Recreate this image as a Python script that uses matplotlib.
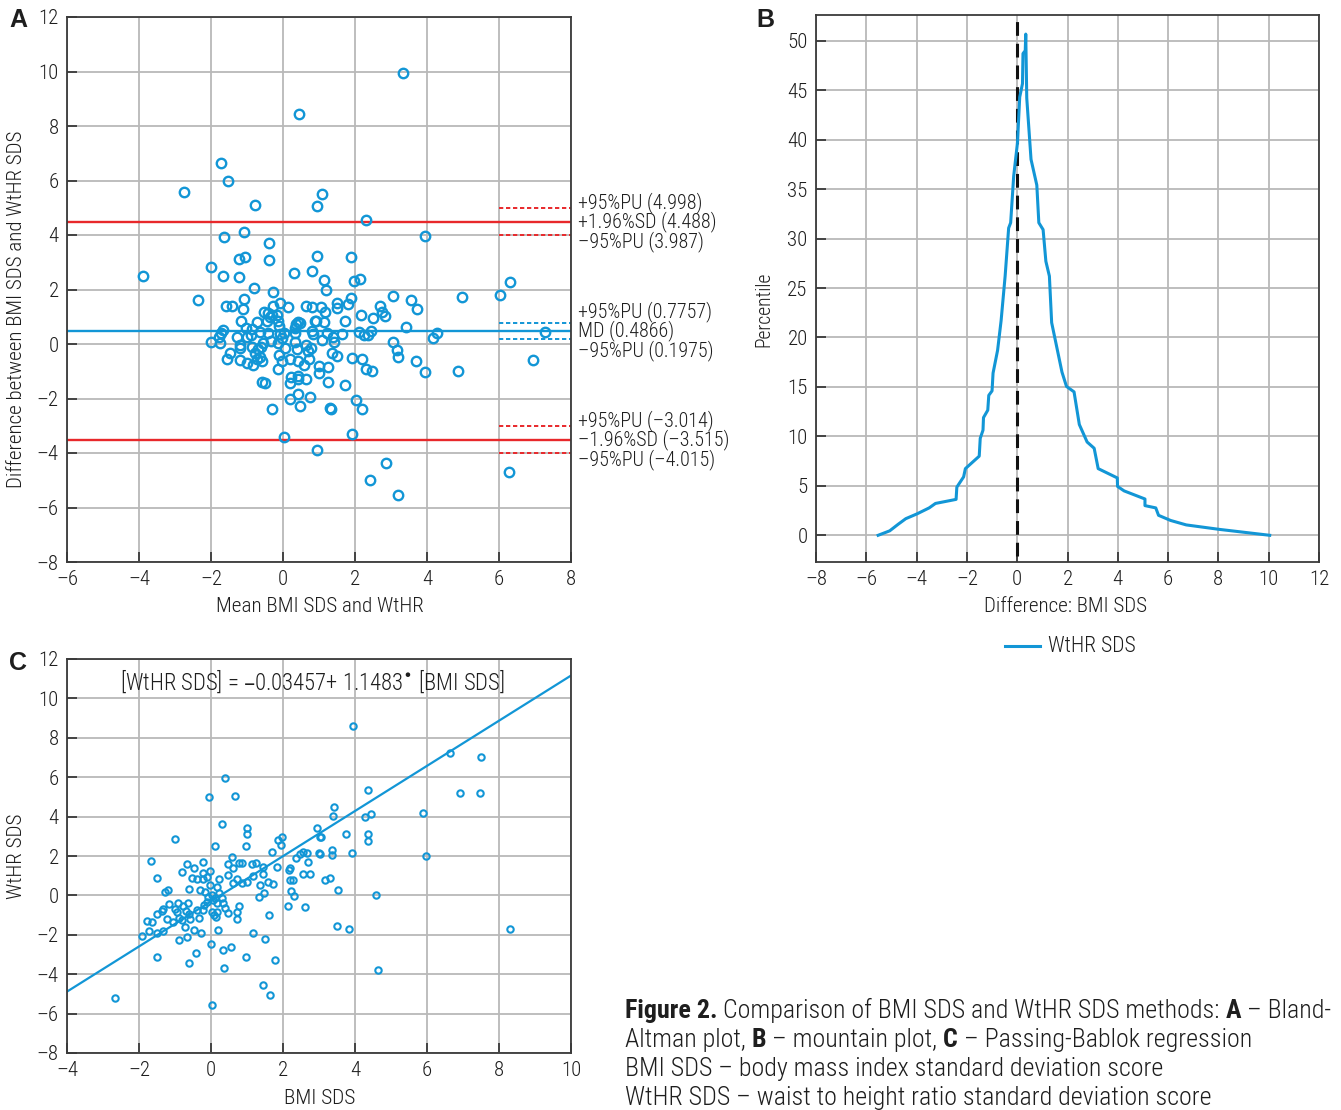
import matplotlib
matplotlib.use("Agg")
import matplotlib.pyplot as plt
from matplotlib import font_manager
from matplotlib.ticker import FuncFormatter, MultipleLocator
from matplotlib.lines import Line2D

# ---------------- data ----------------
# Panel A: Bland-Altman (mean, difference)
ba_mean = [0.44, -1.71, -1.53, -2.76, -0.79, 0.95, 1.07, -1.09, -1.64, -0.38, -1.21, -1.06, -0.38, 0.95,
           -2.00, -3.90, -1.68, -1.22, 0.31, 0.80, -0.80, -0.29, 3.33, 2.31, 3.95, 1.88, 1.14, 1.98, 2.13,
           6.31, 1.20, 0.64, 0.81, 1.05, 1.51, 1.49, 1.17, 1.88, 1.81, 3.05, 4.98, 6.03, 3.56, 2.70, 3.71,
           2.74, 2.83, 2.51, 2.16, 0.91, 1.15, 1.72, 0.47, 3.42, 2.10, 2.26, 2.36, 2.45, 0.81, 0.82, 1.21,
           1.40, 1.63, 4.28, 4.16, 7.27, 1.07, 1.42, 3.05, 3.18, 3.19, 3.69, 6.94, 3.95, 4.87, 1.93, 2.19,
           2.31, 2.46, 1.35, 1.49, 1.00, 1.24, 1.01, 0.63, 1.25, 1.72, 0.75, 2.03, 2.20, 1.30, 1.32, 1.91,
           0.94, 2.87, 6.28, 2.43, 3.20, -2.36, -1.57, -1.42, -1.07, -1.10, -0.08, -0.27, 0.13, -0.53, -0.41,
           -0.30, -0.18, -0.36, -1.17, -0.73, -0.44, -0.13, -0.10, 0.41, 0.36, 0.32, 0.90, -1.66, -1.73,
           -1.77, -2.00, -1.75, -1.03, -0.86, -0.64, -1.28, -1.01, -0.90, -0.43, -0.08, 0.03, -0.02, 0.34,
           0.34, -0.33, -0.55, -0.61, -0.69, -1.19, -1.19, -0.87, -0.13, 0.64, 0.79, 0.70, 0.06, 0.38,
           -1.47, -1.56, -1.19, -1.01, -0.83, -0.59, -0.78, -0.64, -0.73, -0.12, -0.02, 0.19, 0.43, 0.59,
           0.73, -0.14, 0.22, 0.41, 0.42, 0.19, -0.59, -0.49, 0.42, 0.19, 0.46, -0.31, 0.02]
ba_diff = [8.45, 6.64, 5.98, 5.58, 5.11, 5.06, 5.50, 4.12, 3.94, 3.72, 3.12, 3.19, 3.08, 3.23,
           2.84, 2.50, 2.50, 2.46, 2.62, 2.69, 2.07, 1.92, 9.94, 4.56, 3.96, 3.21, 2.35, 2.32, 2.39,
           2.29, 1.98, 1.39, 1.37, 1.37, 1.52, 1.32, 1.17, 1.69, 1.47, 1.77, 1.74, 1.79, 1.60, 1.41, 1.28,
           1.19, 1.04, 0.95, 1.08, 0.84, 0.82, 0.83, 0.78, 0.64, 0.44, 0.32, 0.32, 0.48, 0.49, 0.36, 0.39,
           0.25, 0.37, 0.39, 0.21, 0.45, 0.14, 0.06, 0.08, -0.23, -0.49, -0.64, -0.58, -1.03, -0.98, -0.51, -0.55,
           -0.91, -1.00, -0.34, -0.43, -0.81, -0.83, -1.05, -1.28, -1.39, -1.52, -1.93, -2.06, -2.40, -2.35, -2.37, -3.29,
           -3.89, -4.37, -4.70, -4.98, -5.53, 1.63, 1.38, 1.38, 1.65, 1.28, 1.52, 1.39, 1.35, 1.19, 1.13,
           1.08, 1.05, 1.00, 0.86, 0.81, 0.83, 0.84, 0.66, 0.82, 0.72, 0.59, 0.86, 0.51, 0.39,
           0.27, 0.07, 0.03, 0.60, 0.54, 0.45, 0.25, 0.25, 0.33, 0.39, 0.36, 0.39, 0.21, 0.41,
           0.08, 0.12, 0.03, -0.10, -0.19, -0.04, -0.16, -0.12, 0.03, -0.04, -0.14, -0.25, -0.14, -0.20,
           -0.34, -0.54, -0.59, -0.69, -0.77, -0.61, -0.34, -0.47, -0.56, -0.41, -0.61, -0.54, -0.62, -0.76,
           -0.54, -0.93, -1.20, -1.16, -1.30, -1.42, -1.38, -1.42, -1.82, -2.00, -2.28, -2.39, -3.41]

ba_md = 0.4866
ba_loa = [4.488, -3.515]
ba_md_ci = [0.7757, 0.1975]
ba_upper_ci = [4.998, 3.987]
ba_lower_ci = [-3.014, -4.015]
ba_label_groups = [
    ["+95%PU (4.998)", "+1.96%SD (4.488)", "–95%PU (3.987)"],
    ["+95%PU (0.7757)", "MD (0.4866)", "–95%PU (0.1975)"],
    ["+95%PU (–3.014)", "–1.96%SD (–3.515)", "–95%PU (–4.015)"],
]

# Panel B: mountain plot
mountain_x = [-5.53, -5.07, -4.73, -4.43, -3.98, -3.50, -3.25, -2.43, -2.40, -2.13, -2.06, -1.51, -1.47,
              -1.36, -1.34, -1.17, -1.13, -1.00, -0.96, -0.78, -0.64, -0.48, -0.34, -0.26, -0.14, 0.01,
              0.10, 0.21, 0.23, 0.32, 0.34, 0.38, 0.55, 0.78, 0.86, 1.03, 1.14, 1.28, 1.37, 1.78, 1.96,
              2.26, 2.47, 2.78, 3.06, 3.22, 3.98, 3.99, 4.25, 5.08, 5.08, 5.51, 5.62, 6.10, 6.72, 8.03, 10.04]
mountain_y = [0.0, 0.45, 1.12, 1.68, 2.17, 2.77, 3.22, 3.63, 4.87, 5.91, 6.74, 8.0, 9.8,
              10.63, 11.9, 12.65, 14.15, 14.6, 16.4, 18.7, 21.7, 26.2, 31.06, 31.6, 36.3, 39.67,
              44.3, 45.66, 48.7, 49.0, 50.67, 44.2, 38.0, 35.4, 31.6, 30.9, 27.7, 26.2, 21.5, 16.5, 15.05,
              14.5, 11.2, 9.43, 8.8, 6.74, 5.8, 4.94, 4.49, 3.67, 3.0, 2.77, 2.02, 1.5, 1.05, 0.6, 0.0]

# Panel C: Passing-Bablok (BMI SDS, WtHR SDS)
pb_bmi = [0.40, -0.06, 0.67, 0.31, -1.00, 1.00, 1.00, 0.97, 0.12, -1.68, -0.67, -0.23, -0.47, 0.57, 0.48,
          0.79, 0.87, 0.62, 1.13, 1.25, 1.70, 1.87, 1.98, 1.95, 2.94, 3.03, 2.36, 2.47, 2.67, 2.69, 2.99,
          2.19, 1.82, 1.45, -0.81, -1.51, -0.54, -0.40, -0.21, -0.21, -0.12, -0.03, 0.23, 0.48, 0.62, 0.71,
          0.85, 0.99, 1.16, 1.44, 1.59, 1.73, 1.36, 1.34, 1.47, 2.18, 2.19, 2.29, 2.21, 2.31, 2.15, 2.56,
          2.75, 2.61, 1.62, -1.27, -1.19, -1.36, -1.18, -1.49, -1.33, -1.79, -1.64, -1.71, -1.51, -1.34,
          -1.93, -1.21, -1.05, -0.89, -1.00, -0.91, -0.94, -0.77, -0.69, -0.63, -0.60, -0.81, -0.72, -0.58,
          -0.60, -0.46, -0.28, -0.40, -0.33, -0.23, -0.19, -0.12, -0.07, 0.02, 0.06, 0.11, 0.16, -0.31,
          -0.17, -0.03, 0.16, 0.23, 0.30, 0.34, 0.39, 0.02, 0.08, 0.14, 0.16, 0.48, 0.20, 0.71, 0.71, 0.78,
          0.00, 0.34, 0.55, -0.42, -0.60, 0.37, -1.51, -0.89, -0.68, 0.97, 1.16, 1.49, 1.79, 1.44, 1.63,
          -2.66, 0.04, 3.94, 6.64, 7.49, 6.93, 7.47, 4.35, 3.41, 3.39, 4.28, 4.45, 5.88, 3.06, 3.75, 4.36,
          4.35, 2.55, 3.04, 3.37, 3.36, 3.93, 5.96, 3.17, 3.31, 3.53, 4.58, 3.49, 3.84, 8.31, 4.63]
pb_wthr = [5.97, 4.98, 5.06, 3.64, 2.88, 3.42, 3.10, 2.49, 2.49, 1.76, 1.59, 1.71, 1.41, 1.96, 1.58,
           1.66, 1.66, 1.37, 1.58, 1.66, 2.20, 2.80, 2.96, 2.54, 3.40, 2.98, 1.88, 2.09, 2.17, 1.68, 2.14,
           1.38, 1.46, 1.46, 1.20, 0.88, 0.90, 0.82, 0.82, 1.12, 0.95, 1.24, 0.85, 1.04, 0.64, 0.82,
           0.64, 0.66, 0.98, 1.07, 0.70, 0.56, 0.53, -0.06, 0.14, 1.29, 0.78, 0.78, 0.24, -0.03, -0.54, 1.07,
           1.07, -0.60, -1.01, 0.19, 0.27, -0.78, -0.44, -0.94, -0.71, -1.28, -1.33, -1.79, -1.93, -1.82,
           -2.06, -1.21, -1.33, -1.16, -0.71, -0.40, -0.83, -0.54, -0.79, -0.40, 0.31, -1.25, -1.59, -1.21,
           -0.96, -1.76, -1.89, -0.74, -1.16, -0.74, -0.49, -0.32, -0.07, 0.02, -0.23, -0.15, -0.40, 0.27,
           0.19, 0.53, 0.44, 0.11, -0.15, -0.40, -0.65, -0.83, -0.99, -1.08, -0.83, -0.91, -1.76, -0.83, -1.21, -0.54,
           -2.48, -2.77, -2.60, -2.94, -3.41, -3.67, -3.14, -2.26, -2.13, -3.13, -1.89, -2.21, -3.30, -4.56, -5.07,
           -5.21, -5.58, 8.61, 7.21, 7.04, 5.18, 5.21, 5.35, 4.49, 4.02, 4.00, 4.13, 4.17, 2.95, 3.12, 3.10,
           2.78, 2.19, 2.10, 2.30, 2.05, 2.14, 2.02, 0.78, 0.90, 0.27, 0.04, -1.55, -1.71, -1.71, -3.80]
pb_line_intercept = -0.30   # drawn regression line
pb_line_slope = 1.146
pb_line_x = [-4, 10]
pb_equation = "[WtHR SDS] = –0.03457+ 1.1483$^{\\bullet}$ [BMI SDS]"

caption_lines = [
    [("Figure 2.", True), (" Comparison of BMI SDS and WtHR SDS methods: ", False), ("A", True), (" – Bland-", False)],
    [("Altman plot, ", False), ("B", True), (" – mountain plot, ", False), ("C", True), (" – Passing-Bablok regression", False)],
    [("BMI SDS – body mass index standard deviation score", False)],
    [("WtHR SDS – waist to height ratio standard deviation score", False)],
]

# ---------------- style ----------------
available = {f.name for f in font_manager.fontManager.ttflist}
MAIN_FONT = "Liberation Sans"
for cand in ["Roboto Condensed", "Liberation Sans Narrow", "Open Sans Condensed", "Liberation Sans"]:
    if cand in available:
        MAIN_FONT = cand
        break
plt.rcParams["font.family"] = [MAIN_FONT, "Liberation Sans", "DejaVu Sans"]
plt.rcParams["font.weight"] = 300
plt.rcParams["mathtext.fontset"] = "dejavusans"
BLUE = "#1296d6"
RED = "#e8282b"
GRID = "#b9b9b9"
SPINE = "#3a3a3a"
TXT = "#1e1e1e"
NW = 300  # light weight for normal text

W, H = 1341, 1110
fig = plt.figure(figsize=(W / 100, H / 100), dpi=100)
renderer = fig.canvas.get_renderer()


def rect(l, t, r, b):
    return [l / W, 1 - b / H, (r - l) / W, (b - t) / H]


def fx(x):
    return x / W


def fy(y):
    return 1 - y / H


def width_of(s, size, bold=False):
    t = fig.text(0, 0, s, fontsize=size, fontweight="bold" if bold else NW)
    w = t.get_window_extent(renderer).width
    t.remove()
    return w


def fit(s, target_px, bold=False, base=14.0):
    return base * target_px / width_of(s, base, bold)


TICK_SIZE = min(fit("10", 22), 15)
fmt = FuncFormatter(lambda v, p: f"{int(round(v))}".replace("-", "–"))


def style(ax):
    ax.grid(True, color=GRID, lw=1.3)
    ax.set_axisbelow(True)
    for s in ax.spines.values():
        s.set_color(SPINE)
        s.set_linewidth(1.3)
    ax.tick_params(direction="in", length=7, width=1.3, color=SPINE, labelsize=TICK_SIZE,
                   labelcolor=TXT, pad=6)
    ax.xaxis.set_major_formatter(fmt)
    ax.yaxis.set_major_formatter(fmt)
    for lab in ax.get_xticklabels() + ax.get_yticklabels():
        lab.set_fontweight(NW)


def panel_letter(x, y, s):
    fig.text(fx(x), fy(y), s, ha="center", va="center", fontsize=18, fontweight="bold",
             family=["Liberation Sans", "DejaVu Sans"], color=TXT)


# ---------------- Panel A ----------------
axA = fig.add_axes(rect(67, 17, 571, 562))
axA.set_xlim(-6, 8)
axA.set_ylim(-8, 12)
axA.xaxis.set_major_locator(MultipleLocator(2))
axA.yaxis.set_major_locator(MultipleLocator(2))
style(axA)
axA.axhline(ba_md, color=BLUE, lw=1.7, zorder=2)
for v in ba_loa:
    axA.axhline(v, color=RED, lw=1.7, zorder=2)
for v in ba_md_ci:
    axA.plot([6, 8], [v, v], color=BLUE, lw=1.4, ls=(0, (2.2, 1.4)), zorder=2)
for v in ba_upper_ci + ba_lower_ci:
    axA.plot([6, 8], [v, v], color=RED, lw=1.4, ls=(0, (2.2, 1.4)), zorder=2)
axA.plot(ba_mean, ba_diff, "o", mfc="none", mec=BLUE, ms=6.8, mew=1.7, zorder=3, clip_on=False)
ANN_SIZE = fit("+1.96%SD (4.488)", 139)
for center, labels in zip([ba_loa[0], ba_md, ba_loa[1]], ba_label_groups):
    for lab, dy in zip(labels, [14, 0, -14]):
        axA.annotate(lab, xy=(1, center), xycoords=("axes fraction", "data"), xytext=(5, dy),
                     textcoords="offset points", va="center", ha="left", fontsize=ANN_SIZE, color=TXT,
                     fontweight=NW, annotation_clip=False)

fig.text(fx(320), fy(607), "Mean BMI SDS and WtHR", ha="center", va="center",
         fontsize=fit("Mean BMI SDS and WtHR", 209), color=TXT, fontweight=NW)
fig.text(fx(17), fy(309), "Difference between BMI SDS and WtHR SDS", ha="center", va="center",
         rotation=90, fontsize=fit("Difference between BMI SDS and WtHR SDS", 358), color=TXT, fontweight=NW)
panel_letter(18, 20, "A")

# ---------------- Panel B ----------------
axB = fig.add_axes(rect(816, 15, 1319, 562))
axB.set_xlim(-8, 12)
axB.set_ylim(-2.7, 52.6)
axB.xaxis.set_major_locator(MultipleLocator(2))
axB.set_yticks(range(0, 51, 5))
style(axB)
axB.plot([0, 0], [-2.1, 52.6], color="#111111", lw=2.2, ls=(0, (4.5, 2.6)), zorder=3)
axB.plot(mountain_x, mountain_y, color=BLUE, lw=2.2, zorder=4)
fig.text(fx(1065), fy(607), "Difference: BMI SDS", ha="center", va="center",
         fontsize=fit("Difference: BMI SDS", 164), color=TXT, fontweight=NW)
fig.text(fx(764), fy(309), "Percentile", ha="center", va="center", rotation=90,
         fontsize=fit("Percentile", 76), color=TXT, fontweight=NW)
fig.add_artist(Line2D([fx(1005), fx(1040)], [fy(646), fy(646)], color=BLUE, lw=2.2))
fig.text(fx(1048), fy(646), "WtHR SDS", ha="left", va="center", fontsize=fit("WtHR SDS", 88),
         color=TXT, fontweight=NW)
panel_letter(765, 20, "B")

# ---------------- Panel C ----------------
axC = fig.add_axes(rect(67, 659, 571, 1053))
axC.set_xlim(-4, 10)
axC.set_ylim(-8, 12)
axC.xaxis.set_major_locator(MultipleLocator(2))
axC.yaxis.set_major_locator(MultipleLocator(2))
style(axC)
line_y = [pb_line_intercept + pb_line_slope * x for x in pb_line_x]
axC.plot(pb_line_x, line_y, color=BLUE, lw=1.6, zorder=2)
axC.plot(pb_bmi, pb_wthr, "o", mfc="none", mec=BLUE, ms=4.6, mew=1.5, zorder=3)
axC.text(0.486, 0.944, pb_equation, transform=axC.transAxes, ha="center", va="center",
         fontsize=fit(pb_equation, 387), color=TXT, fontweight=NW)
fig.text(fx(320), fy(1098), "BMI SDS", ha="center", va="center", fontsize=fit("BMI SDS", 72),
         color=TXT, fontweight=NW)
fig.text(fx(17), fy(856), "WtHR SDS", ha="center", va="center", rotation=90,
         fontsize=fit("WtHR SDS", 86), color=TXT, fontweight=NW)
panel_letter(18, 663, "C")

# ---------------- Caption ----------------
BASE = 14.0
space_base = width_of("x x", BASE) - width_of("xx", BASE)


def line_width(segs, size):
    sc = size / BASE
    total = 0.0
    for s, bold in segs:
        n_sp = len(s) - len(s.strip(" "))
        total += width_of(s.strip(" "), BASE, bold) * sc + n_sp * space_base * sc
    return total


CAP_SIZE = BASE * 707 / line_width(caption_lines[0], BASE)
space_w = width_of("x x", CAP_SIZE) - width_of("xx", CAP_SIZE)
for i, segs in enumerate(caption_lines):
    x = 625.0
    y = 1018 + 29 * i
    for s, bold in segs:
        lead = len(s) - len(s.lstrip(" "))
        trail = len(s) - len(s.rstrip(" "))
        x += lead * space_w
        core = s.strip(" ")
        t = fig.text(fx(x), fy(y), core, fontsize=CAP_SIZE, ha="left", va="baseline",
                     fontweight="bold" if bold else NW, color=TXT)
        x += t.get_window_extent(renderer).width + trail * space_w

fig.savefig("out.png", dpi=100)
